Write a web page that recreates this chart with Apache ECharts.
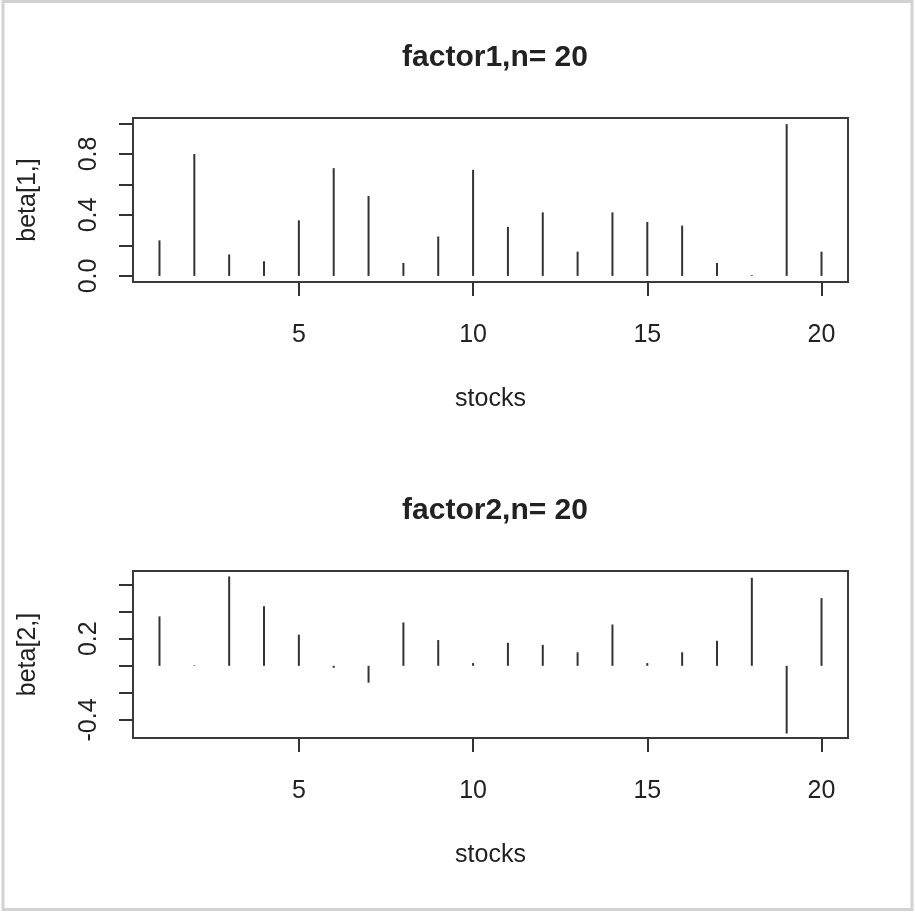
<!DOCTYPE html>
<html>
<head>
<meta charset="utf-8">
<script src="https://cdn.jsdelivr.net/npm/echarts@6/dist/echarts.min.js"></script>
<style>
  html, body { margin: 0; padding: 0; background: #fff; }
  #chart { width: 915px; height: 913px; }
</style>
</head>
<body>
<div id="chart"></div>
<script>
const chart = echarts.init(document.getElementById("chart"));

// stock index 1..20
const stocks = [1, 2, 3, 4, 5, 6, 7, 8, 9, 10, 11, 12, 13, 14, 15, 16, 17, 18, 19, 20];
const beta1 = [0.233, 0.80, 0.141, 0.096, 0.365, 0.707, 0.524, 0.085, 0.259, 0.696,
	0.322, 0.417, 0.159, 0.417, 0.354, 0.330, 0.085, 0.005, 0.996, 0.159];
const beta2 = [0.365, 0.004, 0.66, 0.44, 0.23, -0.015, -0.125, 0.32, 0.19, 0.02,
	0.17, 0.155, 0.10, 0.305, 0.02, 0.10, 0.185, 0.65, -0.50, 0.50];

const titles = ["factor1,n= 20", "factor2,n= 20"];
const yNames = ["beta[1,]", "beta[2,]"];
const xTicks = [5, 10, 15, 20];
const yTicks1 = [0, 0.2, 0.4, 0.6, 0.8, 1.0];
const yLabels1 = [0, 0.4, 0.8];
const yTicks2 = [-0.4, -0.2, 0, 0.2, 0.4, 0.6];
const yLabels2 = [-0.4, 0.2];

const FONT = "Liberation Sans";
const INK = "#222";
const FRAME = "#3a3a3a";

function pairs(ys) {
	return stocks.map((x, i) => [x, ys[i]]);
}

function xAxisOf(idx) {
	return {
		type: "value",
		gridIndex: idx,
		position: "bottom",
		min: 0.24,
		max: 20.76,
		name: "stocks",
		nameLocation: "middle",
		nameGap: 105,
		nameTextStyle: { fontFamily: FONT, fontSize: 25, color: INK },
		axisLine: { show: true, onZero: false, lineStyle: { color: FRAME, width: 2 } },
		splitLine: { show: false },
		axisTick: { show: true, length: 14, customValues: xTicks, lineStyle: { color: "#333", width: 2 } },
		axisLabel: { customValues: xTicks, fontFamily: FONT, fontSize: 25, color: INK, margin: 41 }
	};
}

function yAxisOf(idx, min, max, ticks, labels) {
	return {
		type: "value",
		gridIndex: idx,
		min: min,
		max: max,
		name: yNames[idx],
		nameLocation: "middle",
		nameRotate: 90,
		nameGap: 92,
		nameTextStyle: { fontFamily: FONT, fontSize: 25, color: INK },
		axisLine: { show: true, onZero: false, lineStyle: { color: FRAME, width: 2 } },
		splitLine: { show: false },
		axisTick: { show: true, length: 14, customValues: ticks, lineStyle: { color: "#333", width: 2 } },
		axisLabel: {
			customValues: labels,
			rotate: 90,
			margin: 31,
			fontFamily: FONT,
			fontSize: 25,
			color: INK,
			formatter: v => v.toFixed(1)
		}
	};
}

option = {
	animation: false,
	backgroundColor: "#fff",
	title: titles.map((t, i) => ({
		text: t,
		left: 490,
		top: i === 0 ? 38 : 491,
		textAlign: "center",
		textStyle: { fontFamily: FONT, fontSize: 30, fontWeight: "bold", color: INK }
	})),
	graphic: [{
		type: "rect",
		shape: { x: 3, y: 1.5, width: 909, height: 908 },
		style: { fill: "none", stroke: "#d2d2d2", lineWidth: 3 },
		silent: true
	}],
	grid: [
		{ left: 133, top: 118, width: 715, height: 164, show: true, borderColor: FRAME, borderWidth: 2 },
		{ left: 133, top: 571, width: 715, height: 167, show: true, borderColor: FRAME, borderWidth: 2 }
	],
	xAxis: [xAxisOf(0), xAxisOf(1)],
	yAxis: [
		yAxisOf(0, -0.04, 1.036, yTicks1, yLabels1),
		yAxisOf(1, -0.533, 0.70, yTicks2, yLabels2)
	],
	series: [{
		name: "beta1",
		type: "bar",
		xAxisIndex: 0,
		yAxisIndex: 0,
		data: pairs(beta1),
		barWidth: 2,
		itemStyle: { color: "#333" }
	}, {
		name: "beta2",
		type: "bar",
		xAxisIndex: 1,
		yAxisIndex: 1,
		data: pairs(beta2),
		barWidth: 2,
		itemStyle: { color: "#333" }
	}]
};

chart.setOption(option);
window.onresize = chart.resize;
</script>
</body>
</html>
